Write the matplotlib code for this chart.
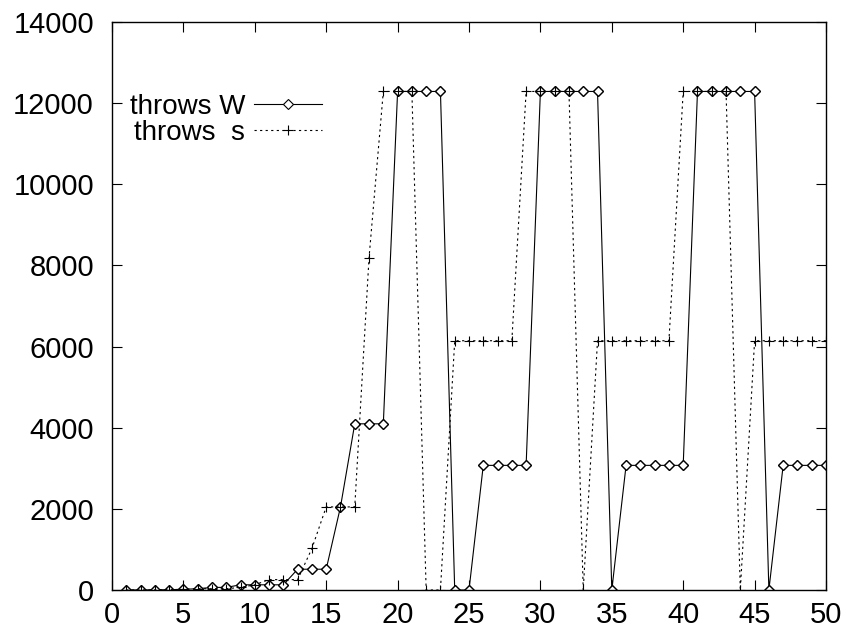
import numpy as np
import matplotlib
matplotlib.use('Agg')
import matplotlib.pyplot as plt

plt.rcParams['font.family'] = ['Liberation Sans', 'DejaVu Sans']
plt.rcParams['font.size'] = 21

# iteration number
x = np.arange(1, 51)

# throws W
throws_w = [1, 2, 4, 8, 16, 32, 64, 64,
            128, 128, 128, 128,
            512, 512, 512,
            2048,
            4096, 4096, 4096,
            12288, 12288, 12288, 12288,
            0, 0,
            3072, 3072, 3072, 3072,
            12288, 12288, 12288, 12288, 12288,
            0,
            3072, 3072, 3072, 3072, 3072,
            12288, 12288, 12288, 12288, 12288,
            0,
            3072, 3072, 3072, 3072]

# throws s
throws_s = [1, 2, 4, 8, 16, 32, 32, 32,
            64, 128,
            256, 256, 256,
            1024,
            2048, 2048, 2048,
            8192,
            12288, 12288, 12288,
            0, 0,
            6144, 6144, 6144, 6144, 6144,
            12288, 12288, 12288, 12288,
            0,
            6144, 6144, 6144, 6144, 6144, 6144,
            12288, 12288, 12288, 12288,
            0,
            6144, 6144, 6144, 6144, 6144, 6144]

fig = plt.figure(figsize=(8.5, 6.33), dpi=100)
ax = fig.add_axes([112 / 850, 1 - 590 / 633, 714 / 850, 568 / 633])

ax.plot(x, throws_w, color='black', lw=0.8, marker='D', ms=5,
        mfc='white', mec='black', mew=0.8, label='throws W')
ax.plot(x, throws_s, color='black', lw=0.8, ls=(0, (2, 3)), marker='+',
        ms=7, mew=0.8, label='throws  s')
# keep diamonds visible on top of the dotted series
ax.plot(x, throws_w, color='none', marker='D', ms=5, mfc='none',
        mec='black', mew=0.8)

ax.set_xlim(0, 50)
ax.set_ylim(0, 14000)
ax.set_xticks(np.arange(0, 51, 5))
ax.set_yticks(np.arange(0, 14001, 2000))
ax.tick_params(direction='in', length=7, width=0.8, top=True, right=True)
ax.tick_params(axis='y', pad=13)
ax.tick_params(axis='x', pad=8)
for sp in ax.spines.values():
    sp.set_linewidth(1.0)

lg = ax.legend(loc='upper left', bbox_to_anchor=(0.025, 0.874),
               markerfirst=False, numpoints=1, frameon=False,
               fontsize=20, handlelength=2.45, handletextpad=0.3,
               labelspacing=0.0, borderaxespad=0, borderpad=0)

fig.savefig('out.png', dpi=100)
